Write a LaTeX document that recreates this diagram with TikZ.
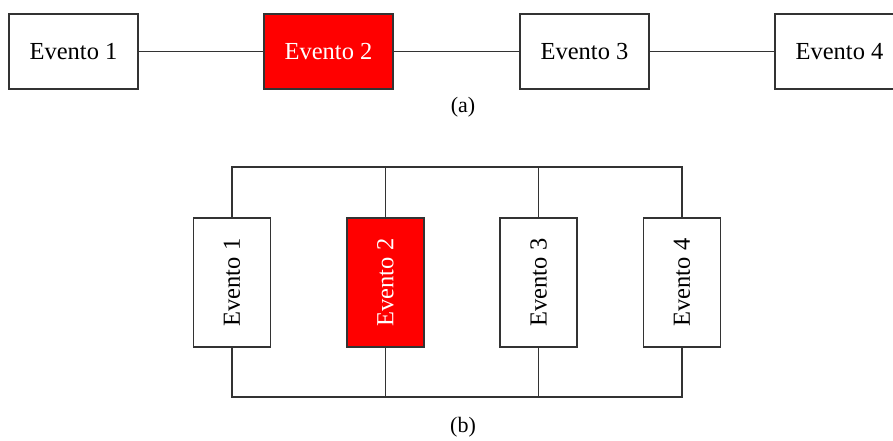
\documentclass[tikz,border=0pt]{standalone}
\usepackage{fontspec}
\setmainfont{Liberation Serif}
\definecolor{linegray}{HTML}{333333}
\definecolor{hotred}{HTML}{FF0000}
\begin{document}
\begin{tikzpicture}[x=1pt,y=-1pt,
  every node/.style={font=\fontsize{24.5}{28}\selectfont, inner sep=0pt},
  hbox/.style={draw=linegray, line width=1.1pt, fill=white, minimum width=129pt, minimum height=75pt},
  vbox/.style={draw=linegray, line width=1.1pt, fill=white, minimum width=129pt, minimum height=77pt, rotate=90},
  hot/.style={fill=hotred, text=white},
  wire/.style={draw=linegray, line width=1.1pt},
  caption/.style={font=\fontsize{22}{26}\selectfont}]
\useasboundingbox (0,0) rectangle (893,441);
\begin{scope}
\clip (0,0) rectangle (893,441);
% (a) events in series
\node[hbox] (e1) at (73.5,51.5) {Evento 1};
\node[hbox,hot] (e2) at (328.5,51.5) {Evento 2};
\node[hbox] (e3) at (584.5,51.5) {Evento 3};
\node[hbox] (e4) at (839.5,51.5) {Evento 4};
\draw[wire] (e1) -- (e2);
\draw[wire] (e2) -- (e3);
\draw[wire] (e3) -- (e4);
\node[caption] (capa) at (463,107) {(a)};
% (b) events in parallel
\node[vbox] (b1) at (232,282.5) {Evento 1};
\node[vbox,hot] (b2) at (385.5,282.5) {Evento 2};
\node[vbox] (b3) at (538.5,282.5) {Evento 3};
\node[vbox] (b4) at (682,282.5) {Evento 4};
\coordinate (toprail) at (0,167);
\coordinate (botrail) at (0,397);
\draw[wire] (b1.east) |- (b4.east |- toprail) -- (b4.east);
\draw[wire] (b2.east) -- (b2.east |- toprail);
\draw[wire] (b3.east) -- (b3.east |- toprail);
\draw[wire] (b1.west) |- (b4.west |- botrail) -- (b4.west);
\draw[wire] (b2.west) -- (b2.west |- botrail);
\draw[wire] (b3.west) -- (b3.west |- botrail);
\node[caption] (capb) at (463,427) {(b)};
\end{scope}
\end{tikzpicture}
\end{document}
